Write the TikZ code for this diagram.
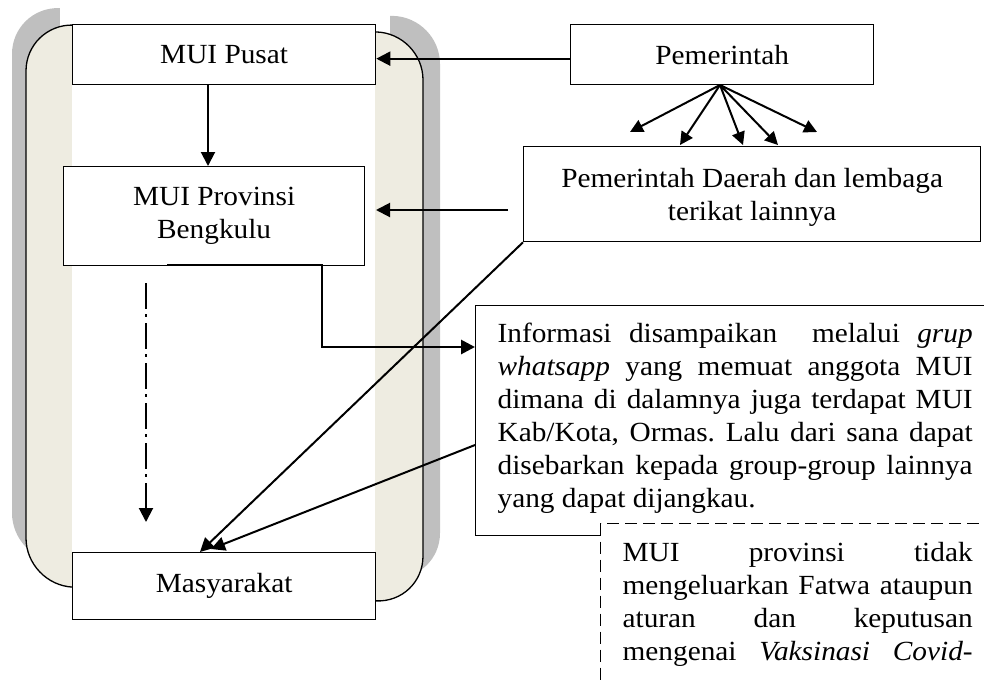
\documentclass[tikz,border=0pt]{standalone}
\usepackage{fontspec}
\setmainfont{Liberation Serif}[FakeStretch=1.058]
\usetikzlibrary{arrows.meta}
\definecolor{beige}{HTML}{EEECE1}
\definecolor{shadowgray}{HTML}{BFBFBF}
\newcommand\jline[2]{\makebox[#1][s]{\frenchspacing\spaceskip=0pt\xspaceskip=0pt\relax #2}}
\begin{document}
\begin{tikzpicture}[x=1pt,y=-1pt,
  font=\fontsize{27.7}{33}\selectfont,
  box/.style={draw, line width=1.3pt, fill=white, inner sep=0pt, align=center, anchor=north west},
  textbox/.style={draw, line width=1.3pt, fill=white, inner ysep=0pt, inner xsep=22pt, anchor=north west, align=left},
  arr/.style={line width=2pt, -{Triangle[length=14pt,width=14pt]}},
  fanarr/.style={line width=2pt, -{Triangle[length=13pt,width=13pt]}},
  elbow/.style={line width=2.8pt, -{Triangle[length=14pt,width=14pt]}},
  dashdotarr/.style={line width=2pt, dash pattern=on 26pt off 5pt on 3pt off 6pt, -{Triangle[length=14pt,width=14pt]}},
  dashbox/.style={textbox, dash pattern=on 12pt off 6pt}]
\useasboundingbox (0,0) rectangle (984,681);
\clip (0,0) rectangle (984,681);

% background container
\fill[shadowgray, rounded corners=47pt] (12,7) -- (440,17) -- (440,580) -- (12,560) -- cycle;
\fill[white] (60,0) rectangle (390,681);
\fill[beige, rounded corners=47pt] (26,24) -- (423,33) -- (423,603) -- (26,585) -- cycle;
\fill[white] (72,0) rectangle (375,681);
\draw[line width=1.3pt, rounded corners=47pt] (26,24) -- (423,33) -- (423,603) -- (26,585) -- cycle;

% boxes
\node[box, minimum width=303pt, minimum height=60pt] (pusat) at (72,24) {MUI Pusat};
\node[box, minimum width=301pt, minimum height=99pt] (prov) at (63,166) {MUI Provinsi\\Bengkulu};
\node[box, minimum width=303pt, minimum height=67pt] (masy) at (72,552) {Masyarakat};
\node[box, minimum width=303pt, minimum height=60pt] (pem) at (570,24) {Pemerintah};
\node[box, minimum width=457pt, minimum height=95pt, text height=58pt, text depth=6pt] (pemda) at (523,146) {Pemerintah Daerah dan lembaga\\terikat lainnya};

\node[textbox, text width=475pt, text height=37pt, text depth=193pt] (info) at (475,305)
  {\jline{475pt}{Informasi disampaikan \ melalui \textit{grup}}\\
   \jline{475pt}{\textit{whatsapp} yang memuat anggota MUI}\\
   \jline{475pt}{dimana di dalamnya juga terdapat MUI}\\
   \jline{475pt}{Kab/Kota, Ormas. Lalu dari sana dapat}\\
   \jline{475pt}{disebarkan kepada group-group lainnya}\\
   {\spaceskip=0pt\relax yang dapat dijangkau.}};

\node[dashbox, text width=350pt, text height=38pt, text depth=200pt] (fatwa) at (600,523)
  {\jline{350pt}{MUI provinsi tidak}\\
   \jline{350pt}{mengeluarkan Fatwa ataupun}\\
   \jline{350pt}{aturan dan keputusan}\\
   \jline{350pt}{mengenai \textit{Vaksinasi Covid-}}};

% connectors
\draw[arr] ([yshift=-4pt]pem.west) -- ([yshift=-4pt]pusat.east);
\draw[arr] (pusat.south -| 208,0) -- (prov.north -| 208,0);

\coordinate (pd0) at (508,210);
\coordinate (pd1) at (376,210);
\draw[arr] (pd0) -- (pd1);

\coordinate (fan0) at (720,85);
\coordinate (f1) at (630,132);
\coordinate (f2) at (680,145);
\coordinate (f3) at (743,145);
\coordinate (f4) at (778,145);
\coordinate (f5) at (817,132);
\foreach \t in {f1,f2,f3,f4,f5} \draw[fanarr] (fan0) -- (\t);

\coordinate (e0) at (167,265);
\coordinate (e1) at (322,265);
\coordinate (e2) at (475,347);
\draw[elbow] (e0) -- (e1) |- (info.west |- e2);

\coordinate (dd0) at (146,283);
\coordinate (dd1) at (146,522);
\draw[dashdotarr] (dd0) -- (dd1);

\coordinate (m1) at (200,552);
\coordinate (m2) at (211,549);
\coordinate (i0) at (475,445);
\draw[arr] (pemda.south west) -- (m1);
\draw[arr] (info.west |- i0) -- (m2);
\end{tikzpicture}
\end{document}
